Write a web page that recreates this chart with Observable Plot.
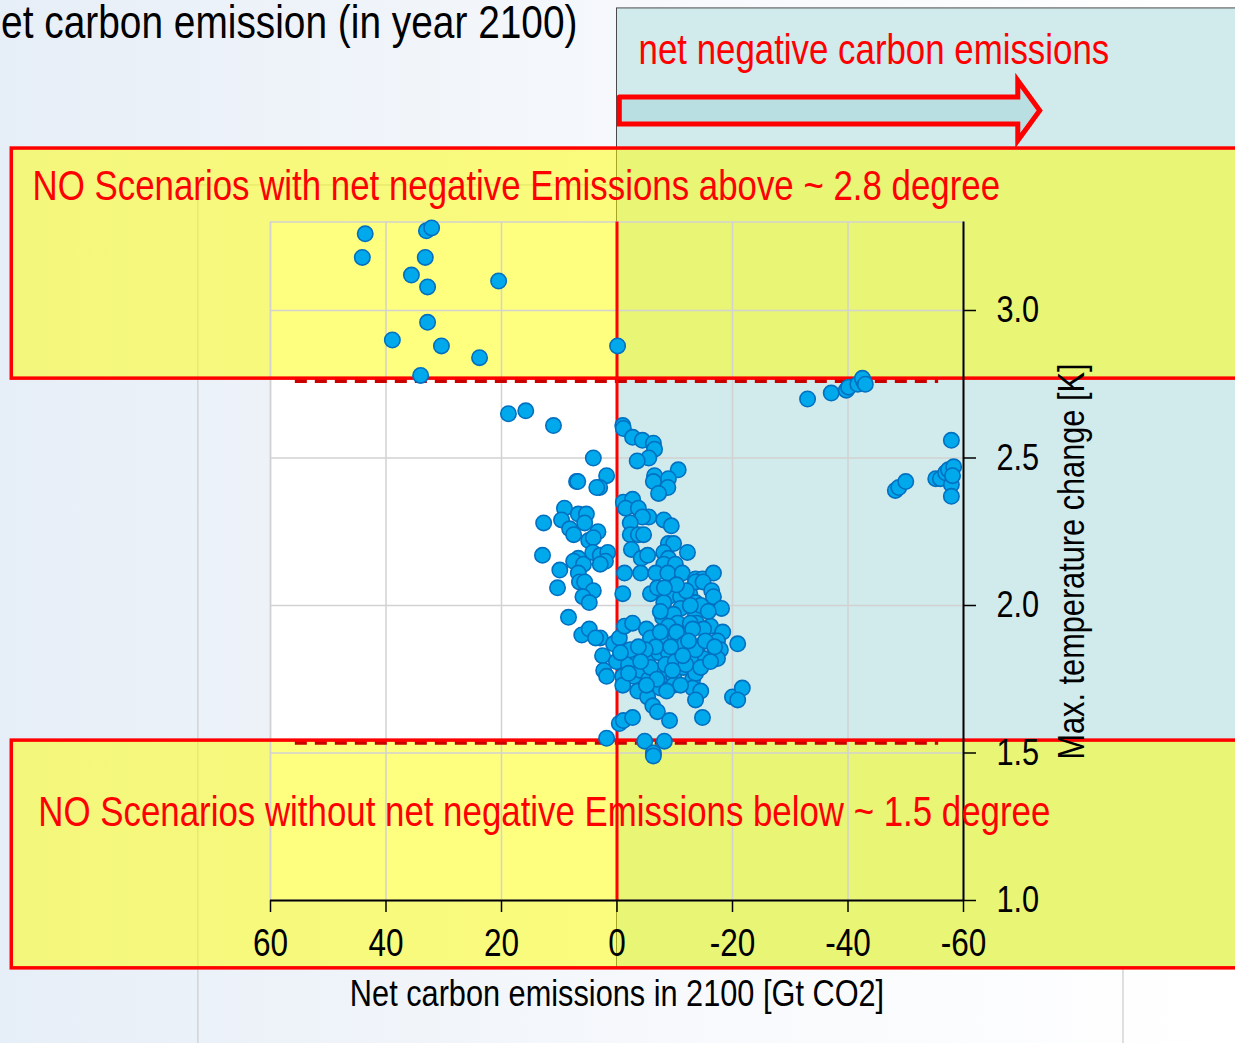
<!DOCTYPE html>
<html>
<head>
<meta charset="utf-8">
<script src="https://cdn.jsdelivr.net/npm/d3@7"></script>
<script src="https://cdn.jsdelivr.net/npm/@observablehq/plot@0.6"></script>
<style>
  html, body { margin: 0; padding: 0; background: #ffffff; }
  #chart svg { display: block; }
</style>
</head>
<body>
<div id="chart"></div>
<script>
// ---- tick labels ----
const xTicks = [60, 40, 20, 0, -20, -40, -60];
const yTicks = [1.0, 1.5, 2.0, 2.5, 3.0];

// ---- scenarios: [net carbon emissions in 2100 (Gt CO2), max. temperature change (K)] ----
const highWarming = [
  [43.6,3.26],[44.1,3.18],[33.0,3.27],[32.1,3.28],[33.2,3.18],[35.6,3.12],[32.8,3.08],
  [20.5,3.10],[32.8,2.96],[38.9,2.90],[30.4,2.88],[23.8,2.84],[34.0,2.78],[-0.1,2.88]
];
const upperLeft = [[18.8,2.65],[15.8,2.66],[11.0,2.61]];
const overshootGroup = [
  [-33.0,2.70],[-37.1,2.72],[-39.7,2.73],[-40.1,2.74],[-41.7,2.75],[-42.7,2.76],[-42.5,2.77],[-43.0,2.75]
];
const strongRemoval = [
  [-57.9,2.56],[-48.2,2.39],[-48.8,2.40],[-50.0,2.42],[-55.2,2.43],[-56.0,2.43],
  [-56.9,2.45],[-57.4,2.46],[-58.3,2.47],[-57.9,2.41],[-57.9,2.37],[-58.1,2.44]
];
const clusterUpper = [
  [-1.0,2.61],[-1.1,2.60],[-2.7,2.57],[-4.4,2.56],[-6.3,2.55],[-6.5,2.53],[-5.5,2.50],[-3.5,2.49],
  [4.1,2.50],[-10.6,2.46],[1.8,2.44],[7.0,2.42],[6.8,2.42],[3.0,2.40],[3.5,2.40],[-6.5,2.44],
  [-8.9,2.43],[-6.3,2.42],[-8.8,2.40],[-7.2,2.38],[-1.1,2.35],[-2.7,2.36],[-1.5,2.33],[-3.7,2.33],
  [-5.5,2.30],[-4.4,2.30],[-8.1,2.29],[-9.4,2.27],[9.1,2.33],[9.6,2.29],[6.7,2.31],[5.3,2.31],
  [5.6,2.28],[8.2,2.26],[7.5,2.24],[12.7,2.28],[3.3,2.25],[4.9,2.22],[4.1,2.23],[-2.3,2.28],
  [-2.3,2.24],[-3.7,2.24],[-4.6,2.24],[-2.5,2.19],[-8.9,2.21],[-9.8,2.21],[-12.2,2.18],[-4.2,2.16],
  [-5.3,2.17],[-8.1,2.18],[-8.9,2.16],[-8.1,2.14],[-10.1,2.14],[12.9,2.17],[6.7,2.16],[7.5,2.15],
  [5.8,2.14],[4.2,2.18],[2.9,2.17],[1.6,2.18],[2.0,2.15],[2.9,2.14],[9.9,2.12],[6.7,2.11],
  [-1.3,2.11],[-4.1,2.11],[-6.7,2.11],[-8.8,2.11],[-11.3,2.11],[-13.6,2.09],[-14.8,2.09],[-16.7,2.11]
];
const clusterLower = [
  [10.3,2.06],[6.5,2.08],[5.6,2.08],[4.1,2.05],[5.9,2.03],[4.8,2.01],[-1.0,2.04],[-5.8,2.04],
  [-7.0,2.06],[-8.9,2.03],[-11.0,2.03],[-12.6,2.04],[-13.6,2.08],[-14.9,2.08],[-16.4,2.05],[-16.7,2.03],
  [-8.1,2.01],[-11.0,1.99],[-13.6,2.01],[-18.1,1.99],[8.4,1.96],[-7.9,1.96],[-9.8,1.97],[-10.5,1.94],
  [-13.6,1.97],[-13.8,1.94],[-16.2,1.93],[-18.3,1.91],[-20.9,1.87],[6.1,1.90],[4.8,1.92],[2.9,1.89],
  [3.7,1.89],[0.6,1.87],[-0.4,1.89],[-1.3,1.93],[-2.7,1.94],[-5.1,1.92],[-5.8,1.89],[-8.4,1.88],
  [-10.1,1.89],[-12.0,1.91],[-15.0,1.92],[-17.4,1.88],[-17.9,1.85],[2.5,1.83],[0.1,1.81],[-2.0,1.80],
  [-3.2,1.84],[-5.5,1.83],[-7.2,1.84],[-8.9,1.84],[-10.7,1.85],[-12.4,1.85],[-13.9,1.86],[-15.0,1.82],
  [-17.4,1.82],[2.3,1.78],[1.8,1.76],[-1.0,1.76],[-2.9,1.76],[-4.1,1.78],[-5.5,1.75],[-7.5,1.78],
  [-8.1,1.75],[-9.8,1.76],[-11.5,1.79],[-13.1,1.75],[-13.6,1.77],[-1.0,1.73],[-3.6,1.71],[-5.3,1.69],
  [-7.5,1.72],[-9.8,1.73],[-13.1,1.72],[-6.2,1.66],[-7.0,1.64],[-9.1,1.61],[-14.8,1.62],[-20.0,1.69],
  [-21.7,1.72],[-20.9,1.68],[-0.4,1.60],[-1.1,1.61],[-2.7,1.62],[1.8,1.55],[-4.8,1.54],[-8.2,1.54],
  [-6.3,1.50],[-6.3,1.49]
];
const clusterCore = [
  [-7.5,1.98],[-8.9,1.93],[-10.3,1.91],[-11.7,1.87],[-12.7,1.82],[-6.7,1.86],[-8.4,1.80],[-10.1,1.81],
  [-11.9,1.80],[-13.6,1.85],[-15.3,1.88],[-5.8,1.79],[-7.5,1.91],[-9.3,1.86],[-11.0,1.73],[-12.7,1.94],
  [-14.5,1.79],[-4.9,1.85],[-4.1,1.81],[-2.3,1.85],[-0.6,1.84],[-2.0,1.77],[-3.7,1.86],[-14.5,2.00],
  [-15.8,1.98],[-12.7,2.00],[-12.0,2.05],[-10.3,2.07],[-8.2,2.06],[-13.1,1.92],[-12.4,1.88],[-11.4,1.83],
  [-9.6,1.78],[-8.6,1.71],[-6.9,1.75],[-5.1,1.73],[-14.5,1.71],[-16.2,1.81],[-16.9,1.86],[-13.6,1.68]
];

// ---- annotation thresholds / regions (in data units) ----
const upperDash = 2.762;    // ~2.8 degree
const lowerDash = 1.536;    // ~1.5 degree
const topBox    = {x1: 104.8, x2: -120, y1: 2.769, y2: 3.549};
const bottomBox = {x1: 104.8, x2: -120, y1: 0.770, y2: 1.542};
const negRegion = {x1: 0, x2: -120, y1: 0.770, y2: 4.024};
const outerFrame = {x1: 72.5, x2: -87.7, y1: 0.2, y2: 3.424};
const arrowShape = [
  [-0.4,3.724],[-69.4,3.724],[-69.4,3.780],[-73.2,3.678],[-69.4,3.576],[-69.4,3.632],[-0.4,3.632],[-0.4,3.724]
];

const titleText = "Net carbon emission (in year 2100)";
const negLabel = "net negative carbon emissions";
const topLabel = "NO Scenarios with net negative Emissions above ~ 2.8 degree";
const bottomLabel = "NO Scenarios without net negative Emissions below ~ 1.5 degree";
const xLabel = "Net carbon emissions in 2100 [Gt CO2]";
const yLabel = "Max. temperature change [K]";

const points = [...highWarming, ...upperLeft, ...overshootGroup, ...strongRemoval,
                ...clusterUpper, ...clusterLower, ...clusterCore]
  .map(([e, t]) => ({emission: e, temp: t}));

const box = (b, o) => Plot.rect([b], {x1: "x1", x2: "x2", y1: "y1", y2: "y2", ...o});

const FONT = "'Liberation Sans', Arial, sans-serif";
const NARROW = 0.83; // horizontal squeeze to mimic Arial Narrow

const chart = Plot.plot({
  width: 1235,
  height: 1043,
  marginLeft: 270,
  marginRight: 272,
  marginTop: 221.5,
  marginBottom: 143,
  x: {domain: [60, -60]},
  y: {domain: [1, 3.3]},
  style: {
    background: "linear-gradient(90deg, #e6eef7 0%, #eef3f9 25%, #f7f9fc 55%, #ffffff 100%)",
    fontFamily: FONT,
    overflow: "visible"
  },
  marks: [
    box(outerFrame, {fill: "none", stroke: "#d4d4d4", strokeWidth: 1.5}),
    Plot.frame({fill: "white", stroke: null}),
    box(negRegion, {fill: "#d1eaeb", stroke: "#4a4a4a", strokeWidth: 1}),
    box(topBox, {fill: "#ffff00", fillOpacity: 0.5, stroke: null}),
    box(bottomBox, {fill: "#ffff00", fillOpacity: 0.5, stroke: null}),
    Plot.gridX(xTicks, {stroke: "#d2d2d2", strokeOpacity: 1, strokeWidth: 1.5}),
    Plot.gridY(yTicks, {stroke: "#d2d2d2", strokeOpacity: 1, strokeWidth: 1.5}),
    Plot.ruleY([3.3], {stroke: "#d2d2d2", strokeWidth: 1.5}),
    Plot.ruleX([60], {stroke: "#d2d2d2", strokeWidth: 1.5}),
    Plot.ruleY([upperDash, lowerDash], {x1: 55.7, x2: -55.7, stroke: "#c80000", strokeWidth: 4.5, strokeDasharray: "12,8"}),
    box(topBox, {fill: "none", stroke: "#ff0000", strokeWidth: 3.5}),
    box(bottomBox, {fill: "none", stroke: "#ff0000", strokeWidth: 3.5}),
    Plot.ruleX([0], {y1: 1, y2: 3.3, stroke: "#ff0000", strokeWidth: 3}),
    Plot.line(arrowShape, {x: d => d[0], y: d => d[1], fill: "#b9dfe3", stroke: "#ff0000", strokeWidth: 5, strokeLinejoin: "miter", strokeMiterlimit: 10}),
    Plot.axisX(xTicks, {anchor: "bottom", tickSize: 12, tickPadding: 17, fontSize: 38, strokeWidth: 1.5, stroke: "#000", color: "#000", tickFormat: d => String(d), label: null}),
    Plot.axisY(yTicks, {anchor: "right", tickSize: 12, tickPadding: 21, fontSize: 37, strokeWidth: 1.5, stroke: "#000", color: "#000", tickFormat: d => d.toFixed(1), label: null}),
    Plot.ruleY([1], {x1: 60, x2: -60, stroke: "#000", strokeWidth: 2}),
    Plot.ruleX([-60], {y1: 1, y2: 3.3, stroke: "#000", strokeWidth: 2}),
    Plot.dot(points, {x: "emission", y: "temp", r: 7.7, fill: "#00a8ec", stroke: "#0070c0", strokeWidth: 1.6}),
    Plot.text([titleText], {x: 6.84, y: 3.925, text: d => d, textAnchor: "end", lineAnchor: "bottom", fontSize: 46.8, fill: "#000"}),
    Plot.text([negLabel], {x: -3.73, y: 3.837, text: d => d, textAnchor: "start", lineAnchor: "bottom", fontSize: 42, fill: "#ff0000"}),
    Plot.text([topLabel], {x: 101.2, y: 3.373, text: d => d, textAnchor: "start", lineAnchor: "bottom", fontSize: 42, fill: "#ff0000"}),
    Plot.text([bottomLabel], {x: 100.2, y: 1.251, text: d => d, textAnchor: "start", lineAnchor: "bottom", fontSize: 42, fill: "#ff0000"}),
    Plot.text([xLabel], {x: 0, y: 0.641, text: d => d, textAnchor: "middle", lineAnchor: "bottom", fontSize: 37, fill: "#000"}),
    Plot.text([yLabel], {x: -80.8, y: 2.149, text: d => d, textAnchor: "middle", lineAnchor: "bottom", rotate: -90, fontSize: 37, fill: "#000"})
  ]
});

// squeeze every text horizontally (narrow typeface look), keeping anchors in place
chart.querySelectorAll("text").forEach(t => {
  const base = t.getAttribute("transform") || "";
  const x = t.getAttribute("x");
  if (x !== null && /^-?[\d.]+$/.test(x.trim())) t.setAttribute("x", String(parseFloat(x) / NARROW));
  t.setAttribute("transform", `${base} scale(${NARROW},1)`.trim());
});

document.getElementById("chart").appendChild(chart);
</script>
</body>
</html>
